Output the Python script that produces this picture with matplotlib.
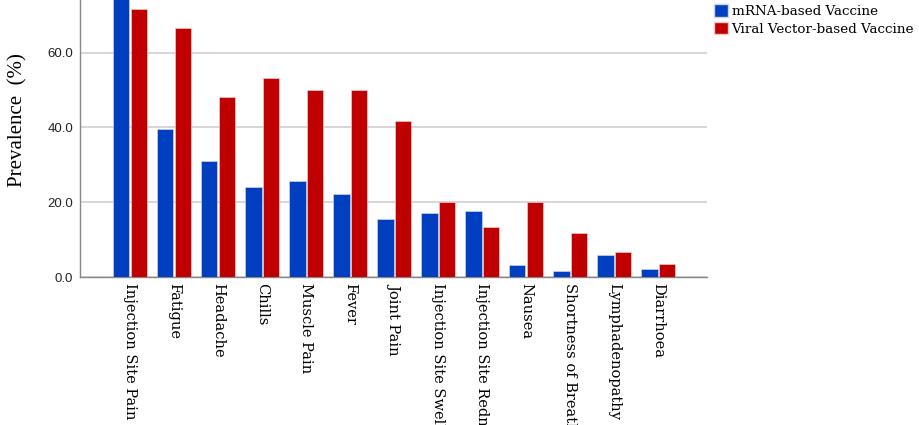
import matplotlib
matplotlib.use("Agg")
import matplotlib.pyplot as plt
import numpy as np
from matplotlib.patches import Patch

categories = ["Injection Site Pain", "Fatigue", "Headache", "Chills", "Muscle Pain",
              "Fever", "Joint Pain", "Injection Site Swelling", "Injection Site Redness",
              "Nausea", "Shortness of Breath", "Lymphadenopathy", "Diarrhoea"]
mrna = [77.0, 39.5, 31.1, 24.1, 25.7, 22.1, 15.5, 17.1, 17.6, 3.2, 1.6, 6.0, 2.2]
viral = [71.7, 66.7, 48.2, 53.3, 50.0, 50.0, 41.7, 20.1, 13.3, 20.1, 11.8, 6.7, 3.4]
series_names = ["mRNA-based Vaccine", "Viral Vector-based Vaccine"]
yticks = [0, 20, 40, 60]

blue = "#0040C0"
red = "#C00000"

fig = plt.figure(figsize=(9.2, 4.25), dpi=100)
ax = fig.add_axes([80/920, 1 - 277/425, (707-80)/920, 277/425])

x = np.arange(len(categories))
w = 0.37
ax.bar(x - 0.2, mrna, width=w, color=blue, edgecolor="#c8d4f0", linewidth=0.5, zorder=3)
ax.bar(x + 0.2, viral, width=w, color=red, edgecolor="#f0c8c8", linewidth=0.5, zorder=3)

ax.set_xlim(-1.14, 13.11)
ax.set_ylim(0, 74.1)
ax.set_yticks(yticks)
ax.set_yticklabels([f"{v:.1f}" for v in yticks], fontfamily="Liberation Sans", fontsize=9.5, color="#222222")
ax.yaxis.grid(True, color="#cfcfcf", linewidth=1.2, zorder=0)
ax.set_axisbelow(True)
ax.tick_params(axis="both", length=0)
ax.tick_params(axis="y", pad=5)
ax.set_xticks(x)
ax.set_xticklabels(categories, rotation=270, fontfamily="DejaVu Serif", fontsize=10.5,
                   va="top", ha="center")
ax.tick_params(axis="x", pad=4)

for s in ["top", "right"]:
    ax.spines[s].set_visible(False)
for s in ["left", "bottom"]:
    ax.spines[s].set_color("#888888")
    ax.spines[s].set_linewidth(1.0)

ax.set_ylabel("Prevalence  (%)", fontfamily="Liberation Serif", fontsize=15)
ax.yaxis.set_label_coords(-53/627, (277-120)/277)

handles = [Patch(facecolor=blue, edgecolor="#c8d4f0"), Patch(facecolor=red, edgecolor="#f0c8c8")]
fig.legend(handles, series_names, loc="upper left", bbox_to_anchor=(702/920, 1.018),
           frameon=False, prop={"family": "DejaVu Serif", "size": 9.7},
           handlelength=1.0, handleheight=1.0, handletextpad=0.3, labelspacing=0.3)

fig.savefig("out.png", dpi=100)
